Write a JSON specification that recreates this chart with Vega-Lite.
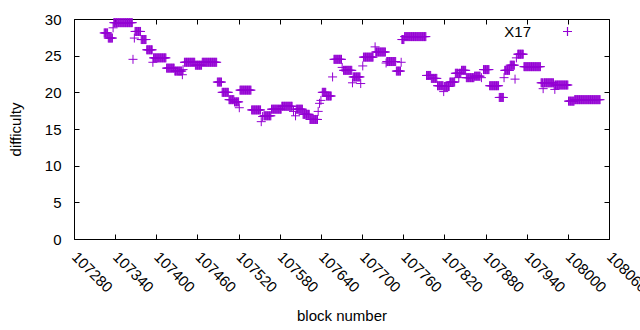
{
"$schema": "https://vega.github.io/schema/vega-lite/v6.json",
"autosize": {"type": "none"},
"padding": {"left": 74, "top": 19, "right": 31, "bottom": 91},
"width": 535,
"height": 220,
"config": {
  "font": "Liberation Sans",
  "view": {"stroke": "#000", "strokeWidth": 1},
  "axis": {"domain": false, "grid": false, "tickColor": "#000", "tickWidth": 1, "tickSize": -5, "labelColor": "#000", "labelFontSize": 15, "titleFontSize": 15, "titleColor": "#000", "titleFontWeight": "normal", "labelFont": "Liberation Sans", "titleFont": "Liberation Sans"},
  "legend": {"symbolStrokeColor": "#9400d3", "symbolStrokeWidth": 1.2}
},
"data": {"values": [
{"b":107324,"d":28.1},{"b":107325,"d":28.1},{"b":107326,"d":28.1},{"b":107327,"d":28.1},{"b":107328,"d":28.1},{"b":107329,"d":28.1},
{"b":107330,"d":27.4},{"b":107331,"d":27.4},{"b":107332,"d":27.4},{"b":107333,"d":27.4},{"b":107334,"d":27.4},{"b":107335,"d":27.4},{"b":107336,"d":27.4},
{"b":107337,"d":28.8},
{"b":107338,"d":29.5},{"b":107339,"d":29.5},{"b":107340,"d":29.5},{"b":107341,"d":29.5},{"b":107342,"d":29.5},{"b":107343,"d":29.5},{"b":107344,"d":29.5},{"b":107345,"d":29.5},{"b":107346,"d":29.5},{"b":107347,"d":29.5},{"b":107348,"d":29.5},{"b":107349,"d":29.5},{"b":107350,"d":29.5},{"b":107351,"d":29.5},{"b":107352,"d":29.5},{"b":107353,"d":29.5},{"b":107354,"d":29.5},{"b":107355,"d":29.5},{"b":107356,"d":29.5},{"b":107357,"d":29.5},{"b":107358,"d":29.5},{"b":107359,"d":29.5},{"b":107360,"d":29.5},{"b":107361,"d":29.5},{"b":107362,"d":29.5},{"b":107363,"d":29.5},{"b":107364,"d":29.5},{"b":107365,"d":29.5},
{"b":107366,"d":24.5},{"b":107368,"d":27.4},
{"b":107369,"d":28.3},{"b":107370,"d":28.3},{"b":107371,"d":28.3},{"b":107372,"d":28.3},{"b":107373,"d":28.3},{"b":107374,"d":28.3},{"b":107375,"d":28.3},{"b":107376,"d":28.3},{"b":107377,"d":28.3},
{"b":107378,"d":27.2},{"b":107379,"d":27.2},{"b":107380,"d":27.2},{"b":107381,"d":27.2},{"b":107382,"d":27.2},{"b":107383,"d":27.2},{"b":107384,"d":27.2},{"b":107385,"d":27.2},
{"b":107386,"d":25.8},{"b":107387,"d":25.8},{"b":107388,"d":25.8},{"b":107389,"d":25.8},{"b":107390,"d":25.8},{"b":107391,"d":25.8},{"b":107392,"d":25.8},{"b":107393,"d":25.8},{"b":107394,"d":25.8},
{"b":107395,"d":24.1},
{"b":107396,"d":24.7},{"b":107397,"d":24.7},{"b":107398,"d":24.7},{"b":107399,"d":24.7},{"b":107400,"d":24.7},{"b":107401,"d":24.7},{"b":107402,"d":24.7},{"b":107403,"d":24.7},{"b":107404,"d":24.7},{"b":107405,"d":24.7},{"b":107406,"d":24.7},{"b":107407,"d":24.7},{"b":107408,"d":24.7},{"b":107409,"d":24.7},{"b":107410,"d":24.7},{"b":107411,"d":24.7},{"b":107412,"d":24.7},{"b":107413,"d":24.7},{"b":107414,"d":24.7},
{"b":107415,"d":23.3},{"b":107416,"d":23.3},{"b":107417,"d":23.3},{"b":107418,"d":23.3},{"b":107419,"d":23.3},{"b":107420,"d":23.3},{"b":107421,"d":23.3},{"b":107422,"d":23.3},{"b":107423,"d":23.3},{"b":107424,"d":23.3},{"b":107425,"d":23.3},{"b":107426,"d":23.3},
{"b":107427,"d":22.9},{"b":107428,"d":22.9},{"b":107429,"d":22.9},{"b":107430,"d":22.9},{"b":107431,"d":22.9},{"b":107432,"d":22.9},{"b":107433,"d":22.9},{"b":107434,"d":22.9},{"b":107435,"d":22.9},{"b":107436,"d":22.9},{"b":107437,"d":22.9},
{"b":107438,"d":22.4},{"b":107439,"d":23.1},
{"b":107441,"d":24.1},{"b":107442,"d":24.1},{"b":107443,"d":24.1},{"b":107444,"d":24.1},{"b":107445,"d":24.1},{"b":107446,"d":24.1},{"b":107447,"d":24.1},{"b":107448,"d":24.1},{"b":107449,"d":24.1},{"b":107450,"d":24.1},{"b":107451,"d":24.1},{"b":107452,"d":24.1},{"b":107453,"d":24.1},{"b":107454,"d":24.1},{"b":107455,"d":24.1},{"b":107456,"d":24.1},
{"b":107457,"d":23.7},{"b":107458,"d":23.7},{"b":107459,"d":23.7},{"b":107460,"d":23.7},{"b":107461,"d":23.7},{"b":107462,"d":23.7},{"b":107463,"d":23.7},{"b":107464,"d":23.7},{"b":107465,"d":23.7},{"b":107466,"d":23.7},
{"b":107467,"d":24.1},{"b":107468,"d":24.1},{"b":107469,"d":24.1},{"b":107470,"d":24.1},{"b":107471,"d":24.1},{"b":107472,"d":24.1},{"b":107473,"d":24.1},{"b":107474,"d":24.1},{"b":107475,"d":24.1},{"b":107476,"d":24.1},{"b":107477,"d":24.1},{"b":107478,"d":24.1},{"b":107479,"d":24.1},{"b":107480,"d":24.1},{"b":107481,"d":24.1},{"b":107482,"d":24.1},{"b":107483,"d":24.1},{"b":107484,"d":24.1},{"b":107485,"d":24.1},{"b":107486,"d":24.1},{"b":107487,"d":24.1},{"b":107488,"d":24.1},
{"b":107489,"d":21.4},{"b":107490,"d":21.4},{"b":107491,"d":21.4},{"b":107492,"d":21.4},{"b":107493,"d":21.4},{"b":107494,"d":21.4},{"b":107495,"d":21.4},
{"b":107496,"d":20.0},{"b":107497,"d":20.0},{"b":107498,"d":20.0},{"b":107499,"d":20.0},{"b":107500,"d":20.0},{"b":107501,"d":20.0},{"b":107502,"d":20.0},{"b":107503,"d":20.0},{"b":107504,"d":20.0},{"b":107505,"d":20.0},
{"b":107506,"d":19.0},{"b":107507,"d":19.0},{"b":107508,"d":19.0},{"b":107509,"d":19.0},{"b":107510,"d":19.0},{"b":107511,"d":19.0},{"b":107512,"d":19.0},{"b":107513,"d":19.0},
{"b":107514,"d":18.7},{"b":107515,"d":18.7},{"b":107516,"d":18.7},{"b":107517,"d":18.7},{"b":107518,"d":18.7},{"b":107519,"d":18.7},{"b":107520,"d":18.7},
{"b":107521,"d":17.9},
{"b":107522,"d":20.3},{"b":107523,"d":20.3},{"b":107524,"d":20.3},{"b":107525,"d":20.3},{"b":107526,"d":20.3},{"b":107527,"d":20.3},{"b":107528,"d":20.3},{"b":107529,"d":20.3},{"b":107530,"d":20.3},{"b":107531,"d":20.3},{"b":107532,"d":20.3},{"b":107533,"d":20.3},{"b":107534,"d":20.3},{"b":107535,"d":20.3},{"b":107536,"d":20.3},{"b":107537,"d":20.3},{"b":107538,"d":20.3},
{"b":107539,"d":17.6},{"b":107540,"d":17.6},{"b":107541,"d":17.6},{"b":107542,"d":17.6},{"b":107543,"d":17.6},{"b":107544,"d":17.6},{"b":107545,"d":17.6},{"b":107546,"d":17.6},{"b":107547,"d":17.6},{"b":107548,"d":17.6},{"b":107549,"d":17.6},{"b":107550,"d":17.6},{"b":107551,"d":17.6},{"b":107552,"d":17.6},
{"b":107553,"d":16.0},{"b":107555,"d":16.7},
{"b":107557,"d":16.8},{"b":107558,"d":16.8},{"b":107559,"d":16.8},{"b":107560,"d":16.8},{"b":107561,"d":16.8},{"b":107562,"d":16.8},{"b":107563,"d":16.8},{"b":107564,"d":16.8},{"b":107565,"d":16.8},{"b":107566,"d":16.8},{"b":107567,"d":16.8},
{"b":107568,"d":17.7},{"b":107569,"d":17.7},{"b":107570,"d":17.7},{"b":107571,"d":17.7},{"b":107572,"d":17.7},{"b":107573,"d":17.7},{"b":107574,"d":17.7},{"b":107575,"d":17.7},{"b":107576,"d":17.7},{"b":107577,"d":17.7},{"b":107578,"d":17.7},{"b":107579,"d":17.7},{"b":107580,"d":17.7},{"b":107581,"d":17.7},{"b":107582,"d":17.7},
{"b":107583,"d":18.1},{"b":107584,"d":18.1},{"b":107585,"d":18.1},{"b":107586,"d":18.1},{"b":107587,"d":18.1},{"b":107588,"d":18.1},{"b":107589,"d":18.1},{"b":107590,"d":18.1},{"b":107591,"d":18.1},{"b":107592,"d":18.1},{"b":107593,"d":18.1},{"b":107594,"d":18.1},{"b":107595,"d":18.1},{"b":107596,"d":18.1},{"b":107597,"d":18.1},{"b":107598,"d":18.1},
{"b":107600,"d":17.4},{"b":107603,"d":16.8},
{"b":107604,"d":17.7},{"b":107605,"d":17.7},{"b":107606,"d":17.7},{"b":107607,"d":17.7},{"b":107608,"d":17.7},{"b":107609,"d":17.7},{"b":107610,"d":17.7},{"b":107611,"d":17.7},{"b":107612,"d":17.7},{"b":107613,"d":17.7},
{"b":107614,"d":17.0},{"b":107615,"d":17.0},{"b":107616,"d":17.0},{"b":107617,"d":17.0},{"b":107618,"d":17.0},{"b":107619,"d":17.0},{"b":107620,"d":17.0},{"b":107621,"d":17.0},{"b":107622,"d":17.0},{"b":107623,"d":17.0},
{"b":107624,"d":16.3},{"b":107625,"d":16.3},{"b":107626,"d":16.3},{"b":107627,"d":16.3},{"b":107628,"d":16.3},{"b":107629,"d":16.3},{"b":107630,"d":16.3},{"b":107631,"d":16.3},{"b":107632,"d":16.3},{"b":107633,"d":16.3},{"b":107634,"d":16.3},{"b":107635,"d":16.3},
{"b":107636,"d":17.4},{"b":107638,"d":18.5},{"b":107640,"d":18.9},
{"b":107642,"d":20.0},{"b":107643,"d":20.0},{"b":107644,"d":20.0},{"b":107645,"d":20.0},{"b":107646,"d":20.0},{"b":107647,"d":20.0},
{"b":107648,"d":19.5},{"b":107649,"d":19.5},{"b":107650,"d":19.5},{"b":107651,"d":19.5},{"b":107652,"d":19.5},{"b":107653,"d":19.5},{"b":107654,"d":19.5},{"b":107655,"d":19.5},
{"b":107657,"d":22.1},
{"b":107659,"d":24.5},{"b":107660,"d":24.5},{"b":107661,"d":24.5},{"b":107662,"d":24.5},{"b":107663,"d":24.5},{"b":107664,"d":24.5},{"b":107665,"d":24.5},{"b":107666,"d":24.5},{"b":107667,"d":24.5},{"b":107668,"d":24.5},{"b":107669,"d":24.5},{"b":107670,"d":24.5},
{"b":107671,"d":23.4},
{"b":107673,"d":23.0},{"b":107674,"d":23.0},{"b":107675,"d":23.0},{"b":107676,"d":23.0},{"b":107677,"d":23.0},{"b":107678,"d":23.0},{"b":107679,"d":23.0},{"b":107680,"d":23.0},{"b":107681,"d":23.0},{"b":107682,"d":23.0},{"b":107683,"d":23.0},{"b":107684,"d":23.0},{"b":107685,"d":23.0},
{"b":107686,"d":21.3},
{"b":107687,"d":22.1},{"b":107688,"d":22.1},{"b":107689,"d":22.1},{"b":107690,"d":22.1},{"b":107691,"d":22.1},{"b":107692,"d":22.1},{"b":107693,"d":22.1},{"b":107694,"d":22.1},{"b":107695,"d":22.1},{"b":107696,"d":22.1},{"b":107697,"d":22.1},
{"b":107698,"d":21.2},{"b":107701,"d":23.6},
{"b":107702,"d":24.8},{"b":107703,"d":24.8},{"b":107704,"d":24.8},{"b":107705,"d":24.8},{"b":107706,"d":24.8},{"b":107707,"d":24.8},{"b":107708,"d":24.8},{"b":107709,"d":24.8},{"b":107710,"d":24.8},{"b":107711,"d":24.8},{"b":107712,"d":24.8},{"b":107713,"d":24.8},{"b":107714,"d":24.8},{"b":107715,"d":24.8},{"b":107716,"d":24.8},
{"b":107719,"d":26.2},
{"b":107720,"d":25.5},{"b":107721,"d":25.5},{"b":107722,"d":25.5},{"b":107723,"d":25.5},{"b":107724,"d":25.5},{"b":107725,"d":25.5},{"b":107726,"d":25.5},{"b":107727,"d":25.5},{"b":107728,"d":25.5},{"b":107729,"d":25.5},{"b":107730,"d":25.5},{"b":107731,"d":25.5},{"b":107732,"d":25.5},{"b":107733,"d":25.5},{"b":107734,"d":25.5},
{"b":107735,"d":24.0},
{"b":107736,"d":24.2},{"b":107737,"d":24.2},{"b":107738,"d":24.2},{"b":107739,"d":24.2},{"b":107740,"d":24.2},{"b":107741,"d":24.2},{"b":107742,"d":24.2},{"b":107743,"d":24.2},{"b":107744,"d":24.2},{"b":107745,"d":24.2},{"b":107746,"d":24.2},{"b":107747,"d":24.2},{"b":107748,"d":24.2},{"b":107749,"d":24.2},
{"b":107750,"d":22.9},{"b":107751,"d":22.9},{"b":107752,"d":22.9},{"b":107753,"d":22.9},{"b":107754,"d":22.9},{"b":107755,"d":22.9},{"b":107756,"d":22.9},
{"b":107757,"d":24.1},
{"b":107758,"d":27.2},{"b":107759,"d":27.2},{"b":107760,"d":27.2},{"b":107761,"d":27.2},
{"b":107762,"d":27.6},{"b":107763,"d":27.6},{"b":107764,"d":27.6},{"b":107765,"d":27.6},{"b":107766,"d":27.6},{"b":107767,"d":27.6},{"b":107768,"d":27.6},{"b":107769,"d":27.6},{"b":107770,"d":27.6},{"b":107771,"d":27.6},{"b":107772,"d":27.6},{"b":107773,"d":27.6},{"b":107774,"d":27.6},{"b":107775,"d":27.6},{"b":107776,"d":27.6},{"b":107777,"d":27.6},{"b":107778,"d":27.6},{"b":107779,"d":27.6},{"b":107780,"d":27.6},{"b":107781,"d":27.6},{"b":107782,"d":27.6},{"b":107783,"d":27.6},{"b":107784,"d":27.6},{"b":107785,"d":27.6},{"b":107786,"d":27.6},{"b":107787,"d":27.6},{"b":107788,"d":27.6},{"b":107789,"d":27.6},{"b":107790,"d":27.6},{"b":107791,"d":27.6},{"b":107792,"d":27.6},{"b":107793,"d":27.6},
{"b":107794,"d":22.3},{"b":107795,"d":22.3},{"b":107796,"d":22.3},{"b":107797,"d":22.3},{"b":107798,"d":22.3},{"b":107799,"d":22.3},{"b":107800,"d":22.3},
{"b":107801,"d":21.9},{"b":107802,"d":21.9},{"b":107803,"d":21.9},{"b":107804,"d":21.9},{"b":107805,"d":21.9},{"b":107806,"d":21.9},{"b":107807,"d":21.9},{"b":107808,"d":21.9},{"b":107809,"d":21.9},
{"b":107810,"d":20.9},{"b":107811,"d":20.9},{"b":107812,"d":20.9},{"b":107813,"d":20.9},{"b":107814,"d":20.9},{"b":107815,"d":20.9},{"b":107816,"d":20.9},{"b":107817,"d":20.9},{"b":107818,"d":20.9},
{"b":107819,"d":20.1},
{"b":107820,"d":20.8},{"b":107821,"d":20.8},{"b":107822,"d":20.8},{"b":107823,"d":20.8},{"b":107824,"d":20.8},{"b":107825,"d":20.8},{"b":107826,"d":20.8},{"b":107827,"d":20.8},
{"b":107828,"d":21.4},{"b":107829,"d":21.4},{"b":107830,"d":21.4},{"b":107831,"d":21.4},{"b":107832,"d":21.4},{"b":107833,"d":21.4},{"b":107834,"d":21.4},{"b":107835,"d":21.4},
{"b":107836,"d":22.6},{"b":107837,"d":22.6},{"b":107838,"d":22.6},{"b":107839,"d":22.6},{"b":107840,"d":22.6},{"b":107841,"d":22.0},{"b":107842,"d":22.6},{"b":107843,"d":22.6},{"b":107844,"d":22.6},
{"b":107845,"d":23.0},{"b":107846,"d":23.0},{"b":107847,"d":23.0},{"b":107848,"d":23.0},{"b":107849,"d":23.0},{"b":107850,"d":23.0},{"b":107851,"d":23.0},
{"b":107852,"d":22.0},{"b":107853,"d":22.0},{"b":107854,"d":22.0},{"b":107855,"d":22.0},{"b":107856,"d":22.0},{"b":107857,"d":22.0},{"b":107858,"d":22.0},{"b":107859,"d":22.0},{"b":107860,"d":22.0},{"b":107861,"d":22.0},{"b":107862,"d":22.0},{"b":107863,"d":22.0},
{"b":107864,"d":22.2},{"b":107865,"d":22.2},{"b":107866,"d":22.2},{"b":107867,"d":22.2},{"b":107868,"d":22.2},{"b":107869,"d":22.2},{"b":107870,"d":22.2},{"b":107871,"d":22.2},{"b":107872,"d":22.2},
{"b":107874,"d":22.0},
{"b":107877,"d":23.1},{"b":107878,"d":23.1},{"b":107879,"d":23.1},{"b":107880,"d":23.1},{"b":107881,"d":23.1},{"b":107882,"d":23.1},{"b":107883,"d":23.1},{"b":107884,"d":23.1},{"b":107885,"d":23.1},
{"b":107886,"d":20.9},{"b":107887,"d":20.9},{"b":107888,"d":20.9},{"b":107889,"d":20.9},{"b":107890,"d":20.9},{"b":107891,"d":20.9},{"b":107892,"d":20.9},{"b":107893,"d":20.9},{"b":107894,"d":20.9},{"b":107895,"d":20.9},{"b":107896,"d":20.9},{"b":107897,"d":20.9},{"b":107898,"d":20.9},{"b":107899,"d":20.9},
{"b":107900,"d":19.3},{"b":107901,"d":19.3},{"b":107902,"d":19.3},{"b":107903,"d":19.3},{"b":107904,"d":19.3},{"b":107905,"d":19.3},{"b":107906,"d":19.3},
{"b":107907,"d":22.0},
{"b":107908,"d":23.0},{"b":107909,"d":23.0},{"b":107910,"d":23.0},{"b":107911,"d":23.0},{"b":107912,"d":23.0},{"b":107913,"d":23.0},{"b":107914,"d":23.0},{"b":107915,"d":23.0},
{"b":107916,"d":23.7},{"b":107917,"d":23.7},{"b":107918,"d":23.7},{"b":107919,"d":23.7},{"b":107920,"d":23.7},{"b":107921,"d":23.7},{"b":107922,"d":23.7},
{"b":107923,"d":21.8},{"b":107925,"d":24.7},
{"b":107927,"d":25.2},{"b":107928,"d":25.2},{"b":107929,"d":25.2},{"b":107930,"d":25.2},{"b":107931,"d":25.2},{"b":107932,"d":25.2},{"b":107933,"d":25.2},{"b":107934,"d":25.2},{"b":107935,"d":25.2},
{"b":107936,"d":23.5},{"b":107937,"d":23.5},{"b":107938,"d":23.5},{"b":107939,"d":23.5},{"b":107940,"d":23.5},{"b":107941,"d":23.5},{"b":107942,"d":23.5},{"b":107943,"d":23.5},{"b":107944,"d":23.5},{"b":107945,"d":23.5},{"b":107946,"d":23.5},{"b":107947,"d":23.5},{"b":107948,"d":23.5},{"b":107949,"d":23.5},{"b":107950,"d":23.5},{"b":107951,"d":23.5},{"b":107952,"d":23.5},{"b":107953,"d":23.5},{"b":107954,"d":23.5},{"b":107955,"d":23.5},{"b":107956,"d":23.5},{"b":107957,"d":23.5},{"b":107958,"d":23.5},{"b":107959,"d":23.5},{"b":107960,"d":23.5},
{"b":107961,"d":21.3},{"b":107962,"d":21.3},{"b":107963,"d":21.3},{"b":107964,"d":20.5},{"b":107965,"d":21.3},{"b":107966,"d":21.3},{"b":107967,"d":21.3},{"b":107968,"d":21.3},{"b":107969,"d":21.3},{"b":107970,"d":21.3},{"b":107971,"d":21.3},{"b":107972,"d":21.3},{"b":107973,"d":21.3},{"b":107974,"d":21.3},{"b":107975,"d":21.3},{"b":107976,"d":21.3},{"b":107977,"d":21.3},{"b":107978,"d":21.3},{"b":107979,"d":21.3},
{"b":107980,"d":21.0},{"b":107981,"d":20.4},{"b":107982,"d":21.0},{"b":107983,"d":21.0},{"b":107984,"d":21.0},{"b":107985,"d":21.0},{"b":107986,"d":21.0},{"b":107987,"d":21.0},{"b":107988,"d":21.0},{"b":107989,"d":21.0},{"b":107990,"d":21.0},{"b":107991,"d":21.0},{"b":107992,"d":21.0},{"b":107993,"d":21.0},{"b":107994,"d":21.0},{"b":107995,"d":21.0},{"b":107996,"d":21.0},{"b":107997,"d":21.0},{"b":107998,"d":21.0},{"b":107999,"d":21.0},{"b":108000,"d":21.0},
{"b":108001,"d":18.8},{"b":108002,"d":18.8},{"b":108003,"d":18.8},{"b":108004,"d":18.8},{"b":108005,"d":18.8},{"b":108006,"d":18.8},{"b":108007,"d":18.8},{"b":108008,"d":18.8},{"b":108009,"d":18.8},
{"b":108010,"d":19.0},{"b":108011,"d":19.0},{"b":108012,"d":19.0},{"b":108013,"d":19.0},{"b":108014,"d":19.0},{"b":108015,"d":19.0},{"b":108016,"d":19.0},{"b":108017,"d":19.0},{"b":108018,"d":19.0},{"b":108019,"d":19.0},{"b":108020,"d":19.0},{"b":108021,"d":19.0},{"b":108022,"d":19.0},{"b":108023,"d":19.0},{"b":108024,"d":19.0},{"b":108025,"d":19.0},{"b":108026,"d":19.0},{"b":108027,"d":19.0},{"b":108028,"d":19.0},{"b":108029,"d":19.0},{"b":108030,"d":19.0},{"b":108031,"d":19.0},{"b":108032,"d":19.0},{"b":108033,"d":19.0},{"b":108034,"d":19.0},{"b":108035,"d":19.0},{"b":108036,"d":19.0},{"b":108037,"d":19.0},{"b":108038,"d":19.0},{"b":108039,"d":19.0},{"b":108040,"d":19.0},{"b":108041,"d":19.0},{"b":108042,"d":19.0},{"b":108043,"d":19.0},{"b":108044,"d":19.0},{"b":108045,"d":19.0},{"b":108046,"d":19.0},{"b":108047,"d":19.0}
]},
"layer": [
  {
    "mark": {"type": "point", "shape": "M-1,0H1M0,-1V1", "filled": false, "strokeWidth": 1, "size": 81, "opacity": 1},
    "encoding": {
      "x": {"field": "b", "type": "quantitative", "title": "block number",
            "scale": {"domain": [107280, 108060], "nice": false, "zero": false},
            "axis": {"orient": "bottom", "values": [107280,107340,107400,107460,107520,107580,107640,107700,107760,107820,107880,107940,108000,108060], "format": "d", "labelAngle": 45, "labelAlign": "left", "labelBaseline": "middle", "labelPadding": 20, "labelOverlap": false, "labelBound": false, "labelFlush": false, "titleY": 76, "titleBaseline": "middle"}},
      "y": {"field": "d", "type": "quantitative", "title": "difficulty",
            "scale": {"domain": [0, 30], "nice": false},
            "axis": {"orient": "left", "values": [0,5,10,15,20,25,30], "labelAlign": "right", "labelBaseline": "middle", "labelPadding": 18, "titleX": -59, "titleY": 110, "titleBaseline": "middle"}},
      "stroke": {"datum": "X17", "type": "nominal", "scale": {"range": ["#9400d3"]},
                "legend": {"title": null, "orient": "none", "legendX": 486, "legendY": 5, "padding": 0, "symbolType": "M-1,0H1M0,-1V1", "symbolSize": 81, "symbolStrokeWidth": 1.2, "symbolFillColor": "transparent", "labelFontSize": 15, "labelColor": "#000", "labelAlign": "right", "labelOffset": -44, "labelFont": "Liberation Sans"}}
    }
  },
  {
    "mark": {"type": "point", "opacity": 0},
    "encoding": {
      "x": {"field": "b", "type": "quantitative",
            "scale": {"domain": [107280, 108060], "nice": false, "zero": false},
            "axis": {"orient": "top", "title": null, "labels": false, "values": [107280,107340,107400,107460,107520,107580,107640,107700,107760,107820,107880,107940,108000,108060]}},
      "y": {"field": "d", "type": "quantitative",
            "scale": {"domain": [0, 30], "nice": false},
            "axis": {"orient": "right", "title": null, "labels": false, "values": [0,5,10,15,20,25,30]}}
    }
  }
],
"resolve": {"axis": {"x": "independent", "y": "independent"}}
}
